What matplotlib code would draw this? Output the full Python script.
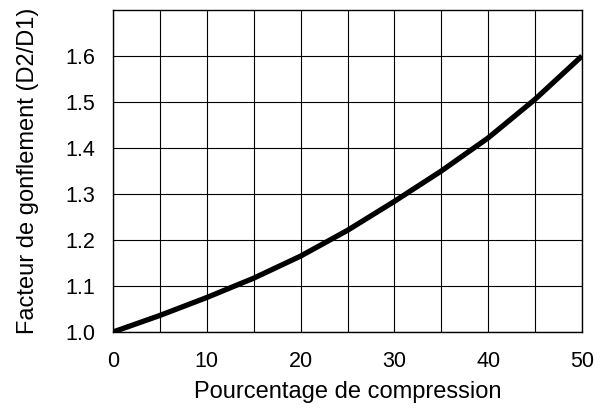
import numpy as np
import matplotlib
matplotlib.use('Agg')
import matplotlib.pyplot as plt

font_size = 15.5

params = {
    'font.family': ['Liberation Sans', 'DejaVu Sans'],
    'font.size': font_size,
    'axes.linewidth': 1,
    'axes.labelsize': 17,
    'xtick.labelsize': font_size,
    'ytick.labelsize': font_size,
}
plt.rcParams.update(params)

# Swelling factor vs compression percentage
compression = [0, 5, 10, 15, 20, 25, 30, 35, 40, 45, 50]
swelling = [1.0, 1.036, 1.075, 1.117, 1.165, 1.221, 1.284, 1.350, 1.422, 1.506, 1.6]

x_ticks = [0, 10, 20, 30, 40, 50]
y_ticks = [1.0, 1.1, 1.2, 1.3, 1.4, 1.5, 1.6]

fig = plt.figure(figsize=(6.03, 4.08), dpi=100)
ax = fig.add_axes([113/603, 76/408, 469/603, 322/408])

ax.plot(compression, swelling, color='black', lw=3.8, solid_capstyle='butt',
        solid_joinstyle='round', zorder=3)

ax.set_xlim(0, 50)
ax.set_ylim(1.0, 1.7)
ax.set_xticks(x_ticks)
ax.set_yticks(y_ticks)
ax.set_yticklabels(['%.1f' % v for v in y_ticks])
ax.set_xticks(np.arange(0, 51, 5), minor=True)
ax.tick_params(which='both', length=0)
ax.tick_params(axis='x', pad=14)
ax.tick_params(axis='y', pad=13)

ax.grid(which='both', axis='x', color='black', lw=0.8)
ax.grid(which='major', axis='y', color='black', lw=0.8)
ax.set_axisbelow(True)

ax.set_xlabel('Pourcentage de compression', labelpad=6)
ax.set_ylabel('Facteur de gonflement (D2/D1)', labelpad=19)

plt.savefig('out.png', dpi=100)
